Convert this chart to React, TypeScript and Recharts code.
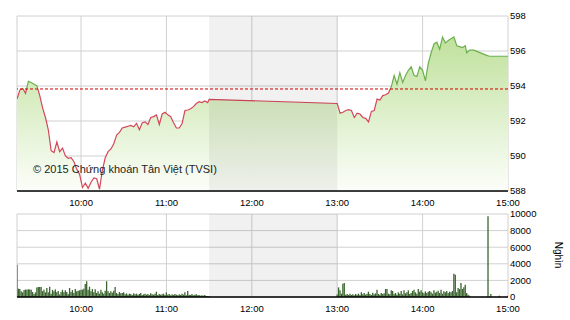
import React from 'react';
import {
  ComposedChart,
  Area,
  Bar,
  XAxis,
  YAxis,
  CartesianGrid,
  ReferenceLine,
  ReferenceArea,
} from 'recharts';

// ---- Price (VN-Index) ----
const priceTimes = [
  '09:15', '09:17', '09:19', '09:21', '09:23', '09:25', '09:27', '09:29', '09:31', '09:33',
  '09:35', '09:37', '09:39', '09:41', '09:43', '09:45', '09:47', '09:49', '09:51', '09:53',
  '09:55', '09:57', '09:59', '10:01', '10:03', '10:05', '10:07', '10:09', '10:11', '10:13',
  '10:15', '10:17', '10:19', '10:21', '10:23', '10:25', '10:27', '10:29', '10:31', '10:33',
  '10:35', '10:37', '10:39', '10:41', '10:43', '10:45', '10:47', '10:49', '10:51', '10:53',
  '10:55', '10:57', '10:59', '11:01', '11:03', '11:05', '11:07', '11:09', '11:11', '11:13',
  '11:15', '11:17', '11:19', '11:21', '11:23', '11:25', '11:27', '11:29', '11:30',
  '13:00', '13:02', '13:04', '13:06', '13:08', '13:10', '13:12', '13:14', '13:16', '13:18',
  '13:20', '13:22', '13:24', '13:26', '13:28', '13:30', '13:32', '13:34', '13:36', '13:38',
  '13:40', '13:42', '13:44', '13:46', '13:48', '13:50', '13:52', '13:54', '13:56', '13:58',
  '14:00', '14:02', '14:04', '14:06', '14:08', '14:10', '14:12', '14:14', '14:16', '14:18',
  '14:20', '14:22', '14:24', '14:26', '14:28', '14:30', '14:31', '14:33', '14:36', '14:39',
  '14:42', '14:45', '14:47', '15:00',
];
const priceValues = [
  593.26, 593.77, 593.87, 593.58, 594.27, 594.2, 594.1, 594.0, 593.45, 592.75,
  592.2, 591.5, 590.3, 590.2, 590.8, 590.25, 590.45, 590.0, 589.87, 589.9,
  589.67, 589.25, 588.95, 588.2, 588.45, 588.15, 588.5, 588.75, 588.7, 588.1,
  589.2, 589.9, 590.25, 590.4, 590.7, 591.2, 591.35, 591.6, 591.65, 591.7,
  591.75, 591.67, 591.87, 591.5, 591.9, 591.95, 591.8, 592.2, 592.25, 592.35,
  591.8, 592.4, 592.5, 592.35, 592.25, 591.9, 591.6, 591.6, 591.85, 592.6,
  592.63, 592.7, 592.82, 593.0, 593.1, 593.05, 593.15, 593.05, 593.24,
  593.0, 592.45, 592.5, 592.6, 592.65, 592.6, 592.2, 592.45, 592.4, 592.2,
  592.15, 591.95, 592.55, 592.6, 593.25, 593.2, 593.45, 593.5, 593.6, 593.95,
  594.6, 594.1, 594.75, 594.2, 594.6, 594.9, 595.1, 594.6, 594.55, 595.1,
  594.9, 594.3, 595.3, 595.9, 596.4, 596.5, 596.1, 596.8, 596.45, 596.6,
  596.7, 596.8, 596.3, 596.25, 596.2, 596.3, 595.9, 596.05, 596.05, 595.95,
  595.85, 595.75, 595.7, 595.7,
];
const referencePrice = 593.83;
const priceTicks = [588, 590, 592, 594, 596, 598];

// ---- Time axis ----
const timeTicks = ['09:15', '10:00', '11:00', '12:00', '13:00', '14:00', '15:00'];
const hiddenTimeTicks = ['09:15'];
const lunchBreak = ['11:30', '13:00'];

// ---- Volume (thousand shares, per minute) ----
const volumeTicks = [0, 2000, 4000, 6000, 8000, 10000];
const morningVolumeStart = '09:15';
const morningVolume = [
  3900, 1000, 950, 680, 560, 850, 900, 880, 920, 900,
  880, 600, 350, 560, 1150, 1200, 1200, 1200, 700, 880,
  560, 1080, 560, 1240, 400, 860, 700, 920, 560, 720,
  300, 600, 860, 560, 800, 600, 360, 1080, 600, 840,
  480, 960, 680, 760, 800, 880, 880, 1000, 1570, 1890,
  880, 1240, 680, 960, 560, 920, 480, 680, 400, 880,
  560, 400, 760, 1900, 680, 480, 680, 500, 760, 1200,
  480, 360, 600, 440, 480, 560, 320, 440, 280, 400,
  360, 240, 440, 320, 400, 280, 360, 480, 240, 320,
  400, 280, 360, 240, 440, 320, 280, 400, 640, 240,
  360, 280, 320, 400, 240, 560, 280, 360, 200, 320,
  240, 360, 280, 200, 320, 240, 400, 280, 560, 200,
  720, 280, 240, 360, 200, 280, 320, 200, 240, 160,
  200, 160, 240, 120, 100, 80,
];
const afternoonVolumeStart = '13:00';
const afternoonVolume = [
  300, 1160, 800, 400, 1600, 1690, 280, 360, 240, 400,
  240, 320, 200, 360, 280, 400, 240, 560, 320, 480,
  280, 400, 640, 360, 240, 520, 320, 440, 880, 360,
  280, 480, 360, 440, 960, 960, 400, 320, 800, 720,
  360, 480, 280, 560, 400, 720, 320, 800, 440, 560,
  800, 360, 480, 720, 880, 560, 400, 960, 640, 800,
  560, 440, 680, 480, 640, 720, 560, 400, 800, 520,
  640, 760, 480, 880, 400, 680, 560, 720, 480, 640,
  560, 720, 2810, 2690, 560, 1080, 960, 1690, 960, 1160,
  1490, 480, 280, 160,
];
const closingVolumeTimes = ['14:46', '14:48', '14:54', '15:00'];
const closingVolume = [9720, 360, 160, 160];

// ---- helpers ----
const toMin = (t: string) => {
  const [h, m] = t.split(':').map(Number);
  return h * 60 + m;
};
const fmtTime = (v: number) => {
  const h = Math.floor(v / 60);
  const m = v % 60;
  const s = `${h < 10 ? '0' + h : h}:${m < 10 ? '0' + m : m}`;
  return hiddenTimeTicks.includes(s) ? '' : s;
};

const priceData = priceTimes.map((t, i) => ({ x: toMin(t), price: priceValues[i] }));
const volumeData = [
  ...morningVolume.map((v, i) => ({ x: toMin(morningVolumeStart) + i, vol: v })),
  ...afternoonVolume.map((v, i) => ({ x: toMin(afternoonVolumeStart) + i, vol: v })),
  ...closingVolumeTimes.map((t, i) => ({ x: toMin(t), vol: closingVolume[i] })),
];

const xDomain = [toMin(timeTicks[0]), toMin(timeTicks[timeTicks.length - 1])];
const xTicks = timeTicks.map(toMin);

const pMax = Math.max(...priceValues);
const pMin = Math.min(...priceValues);
const splitOffset = (pMax - referencePrice) / (pMax - pMin);

const FONT = '"Liberation Sans", Arial, sans-serif';
const tickStyle = { fontSize: 9.5, fill: '#000', fontFamily: FONT };
const GRID = '#d0d0d0';

export default function App() {
  return (
    <div
      style={{
        position: 'absolute',
        left: 0,
        top: 0,
        width: 570,
        height: 320,
        background: '#fff',
        overflow: 'hidden',
      }}
    >
      <div style={{ position: 'absolute', left: 0, top: 0 }}>
        <ComposedChart
          width={570}
          height={215}
          data={priceData}
          margin={{ top: 16, right: 0, bottom: 0, left: 17 }}
        >
          <defs>
            <linearGradient id="priceFill" x1="0" y1="0" x2="0" y2="1">
              <stop offset="0%" stopColor="#c0e19c" />
              <stop offset="100%" stopColor="#fcfefa" />
            </linearGradient>
            <linearGradient id="priceStroke" x1="0" y1="0" x2="0" y2="1">
              <stop offset={splitOffset} stopColor="#6cb04e" />
              <stop offset={splitOffset} stopColor="#d4475a" />
            </linearGradient>
          </defs>
          <CartesianGrid stroke={GRID} />
          <XAxis
            dataKey="x"
            type="number"
            domain={xDomain}
            ticks={xTicks}
            interval={0}
            tickFormatter={fmtTime}
            axisLine={{ stroke: '#000', strokeWidth: 1.5 }}
            tickLine={false}
            height={24}
            tick={tickStyle}
            allowDataOverflow
          />
          <YAxis
            orientation="right"
            domain={[priceTicks[0], priceTicks[priceTicks.length - 1]]}
            ticks={priceTicks}
            interval={0}
            width={62}
            axisLine={false}
            tickLine={false}
            tickSize={0}
            tickMargin={2}
            tick={{ ...tickStyle, textAnchor: 'start' }}
            allowDataOverflow
          />
          <Area
            dataKey="price"
            type="linear"
            stroke="url(#priceStroke)"
            strokeWidth={1.2}
            fill="url(#priceFill)"
            fillOpacity={1}
            baseValue={priceTicks[0]}
            dot={false}
            activeDot={false}
            isAnimationActive={false}
          />
          <ReferenceArea
            x1={toMin(lunchBreak[0])}
            x2={toMin(lunchBreak[1])}
            fill="#000"
            fillOpacity={0.055}
            stroke="none"
          />
          <ReferenceLine y={referencePrice} stroke="#cc0000" strokeDasharray="3 2" />
        </ComposedChart>
      </div>

      <div style={{ position: 'absolute', left: 0, top: 200 }}>
        <ComposedChart
          width={570}
          height={120}
          data={volumeData}
          margin={{ top: 14, right: 0, bottom: 0, left: 17 }}
        >
          <CartesianGrid stroke={GRID} />
          <XAxis
            dataKey="x"
            type="number"
            domain={xDomain}
            ticks={xTicks}
            interval={0}
            tickFormatter={fmtTime}
            axisLine={{ stroke: '#000', strokeWidth: 1.5 }}
            tickLine={false}
            height={23}
            tick={tickStyle}
            allowDataOverflow
          />
          <YAxis
            orientation="right"
            domain={[volumeTicks[0], volumeTicks[volumeTicks.length - 1]]}
            ticks={volumeTicks}
            interval={0}
            width={62}
            axisLine={false}
            tickLine={false}
            tickSize={0}
            tickMargin={2}
            tick={{ ...tickStyle, textAnchor: 'start' }}
            allowDataOverflow
          />
          <ReferenceArea
            x1={toMin(lunchBreak[0])}
            x2={toMin(lunchBreak[1])}
            fill="#000"
            fillOpacity={0.055}
            stroke="none"
          />
          <Bar dataKey="vol" fill="#3a652e" barSize={1.3} isAnimationActive={false} />
        </ComposedChart>
      </div>

      <div
        style={{
          position: 'absolute',
          left: 33,
          top: 164,
          fontSize: 11,
          lineHeight: '11px',
          fontFamily: FONT,
          color: '#222',
          whiteSpace: 'nowrap',
        }}
      >
        © 2015 Chứng khoán Tân Việt (TVSI)
      </div>

      <div
        style={{
          position: 'absolute',
          left: 558,
          top: 255,
          fontSize: 10,
          lineHeight: '10px',
          fontFamily: FONT,
          color: '#000',
          whiteSpace: 'nowrap',
          transform: 'translate(-50%, -50%) rotate(90deg)',
        }}
      >
        Nghìn
      </div>
    </div>
  );
}
